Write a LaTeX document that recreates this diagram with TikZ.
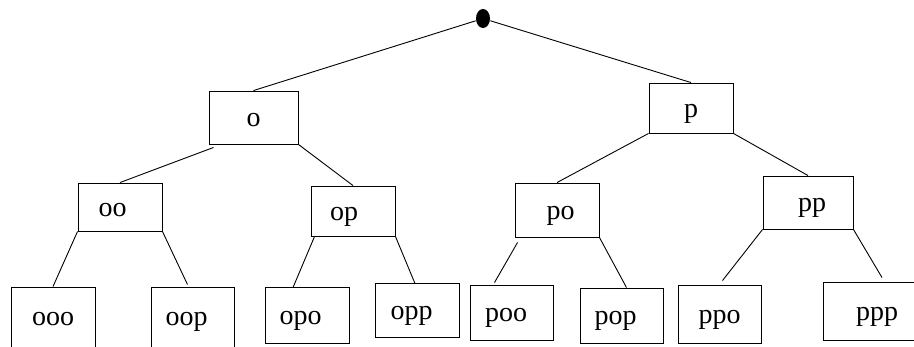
\documentclass[tikz,border=0pt]{standalone}
\usepackage{fontspec}
\setmainfont{Liberation Serif}
\usetikzlibrary{shapes.geometric}
\begin{document}
\begin{tikzpicture}[x=1pt, y=-1pt, line width=0.9pt]
    \tikzset{
      bx/.style={draw, inner sep=0pt, font=\fontsize{28}{30}\selectfont,
                 text height=20pt, text depth=1.4pt},
      cut/.style={text height=13pt, text depth=0pt},
      root/.style={ellipse, fill=black, inner sep=0pt,
                   minimum width=14pt, minimum height=19pt},
    }
    \useasboundingbox (0,0) rectangle (914,347);
    \clip (0,0) rectangle (914,347);

    \node[root] (r) at (483,18.5) {};

    \node[bx, minimum width=89pt, minimum height=53pt] (o) at (253.5,117.5) {o};
    \node[bx, minimum width=84pt, minimum height=50pt] (p) at (691,108) {p};

    \node[bx, minimum width=84pt, minimum height=48pt] (oo) at (120,207) {oo\hspace*{15pt}};
    \node[bx, minimum width=84pt, minimum height=50pt] (op) at (353,211) {op\hspace*{18pt}};
    \node[bx, minimum width=84pt, minimum height=54pt] (po) at (557,210) {\hspace*{7pt}po};
    \node[bx, minimum width=90pt, minimum height=53pt] (pp) at (808,202.5) {\hspace*{8pt}pp};

    \node[bx, cut, minimum width=84pt, minimum height=64pt] (ooo) at (53,319) {ooo};
    \node[bx, cut, minimum width=83pt, minimum height=64pt] (oop) at (192.5,319) {oop\hspace*{12pt}};
    \node[bx, minimum width=84pt, minimum height=56pt] (opo) at (307,315) {opo\hspace*{13pt}};
    \node[bx, minimum width=84pt, minimum height=54pt] (opp) at (417,310) {opp\hspace*{11pt}};
    \node[bx, minimum width=83pt, minimum height=55pt] (poo) at (511.5,312.5) {poo\hspace*{11pt}};
    \node[bx, minimum width=83pt, minimum height=55pt] (pop) at (621.5,315.5) {pop\hspace*{12pt}};
    \node[bx, minimum width=83pt, minimum height=58pt] (ppo) at (719.5,314) {ppo};
    \node[bx, minimum width=92pt, minimum height=58pt] (ppp) at (869,311) {\hspace*{16pt}ppp};

    \draw (r) -- (o.north);
    \draw (r) -- (p.north);

    \draw ([xshift=5pt,yshift=-3pt]o.south west) -- (oo.north);
    \draw (o.south east) -- (op.north);
    \draw (p.south west) -- (po.north);
    \draw (p.south east) -- (pp.north);

    \draw (oo.south west) -- (ooo.north);
    \draw (oo.south east) -- ([xshift=-5pt,yshift=2pt]oop.north);
    \draw ([xshift=4pt]op.south west) -- ([xshift=-14pt,yshift=-1pt]opo.north);
    \draw (op.south east) -- ([xshift=-2pt,yshift=-1pt]opp.north);
    \draw ([xshift=3pt,yshift=-5pt]po.south west) -- ([xshift=-17pt,yshift=2pt]poo.north);
    \draw (po.south east) -- ([xshift=5pt]pop.north);
    \draw (pp.south west) -- ([xshift=3pt,yshift=4pt]ppo.north);
    \draw (pp.south east) -- ([xshift=13pt,yshift=4pt]ppp.north);
  \end{tikzpicture}
\end{document}
